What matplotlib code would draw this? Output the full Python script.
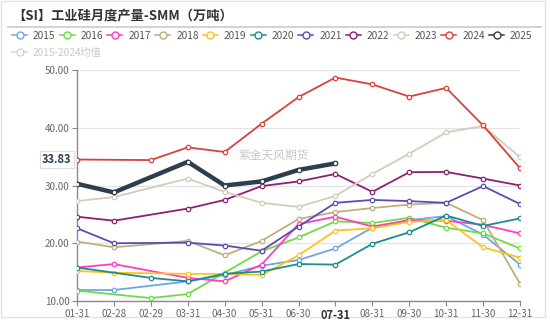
import numpy as np
import matplotlib
matplotlib.use("Agg")
import matplotlib.pyplot as plt
from matplotlib.lines import Line2D
from matplotlib.patches import Rectangle

plt.rcParams['font.family'] = ['Noto Sans CJK SC', 'DejaVu Sans']

categories = ['01-31', '02-28', '02-29', '03-31', '04-30', '05-31', '06-30',
              '07-31', '08-31', '09-30', '10-31', '11-30', '12-31']
N = np.nan
s2015 = [11.9, 11.9, N, 13.4, 14.5, 16.1, 17.1, 19.1, 22.7, 24.0, 24.7, 21.5, 16.3]
s2016 = [11.8, N, 10.5, 11.2, 14.9, 18.6, 21.0, 23.8, 23.5, 24.4, 22.7, 21.7, 19.1]
s2017 = [15.8, 16.4, N, 14.0, 13.4, 16.3, 23.3, 24.6, 22.9, 24.0, 23.9, 23.2, 21.7]
s2018 = [20.3, 19.3, N, 20.4, 17.9, 20.4, 24.2, 25.4, 26.1, 26.7, 27.0, 24.0, 13.0]
s2019 = [15.2, 14.9, N, 14.7, 14.7, 14.5, 17.9, 22.2, 22.6, 23.7, 24.0, 19.3, 17.5]
s2020 = [15.8, N, 14.0, 13.4, 14.7, 15.1, 16.4, 16.3, 19.9, 21.9, 24.8, 23.0, 24.3]
s2021 = [22.6, 20.0, N, 20.1, 19.6, 18.7, 22.9, 27.0, 27.5, 27.3, 27.0, 29.9, 26.8]
s2022 = [24.6, 23.9, N, 26.0, 27.5, 29.9, 30.7, 32.0, 28.9, 32.3, 32.35, 31.2, 30.0]
s2023 = [27.3, 28.0, N, 31.2, 28.9, 27.0, 26.3, 28.2, 32.0, 35.5, 39.2, 40.3, 34.9]
s2024 = [34.5, N, 34.4, 36.6, 35.8, 40.7, 45.3, 48.7, 47.5, 45.4, 46.9, 40.4, 33.0]
s2025 = [30.3, 28.8, N, 34.1, 30.0, 30.7, 32.7, 33.83, N, N, N, N, N]

series_names = ['2015', '2016', '2017', '2018', '2019', '2020', '2021', '2022',
                '2023', '2024', '2025']
series_vals = [s2015, s2016, s2017, s2018, s2019, s2020, s2021, s2022, s2023,
               s2024, s2025]
colors = ['#6CA6E6', '#6EDB47', '#FF3DC4', '#BFAE7E', '#FFC21A', '#1C8C8F',
          '#5C4DB0', '#8E1F71', '#D6CABB', '#D9413B', '#2D3E4E']
mean_name = '2015-2024均值'
mean_color = '#D3D3D3'
yticks = [10, 20, 30, 40, 50]
last_label = '33.83'

W, H = 550, 322
fig = plt.figure(figsize=(W / 100, H / 100), dpi=100)

ax = fig.add_axes([77 / W, 1 - 301 / H, (520 - 77) / W, (301 - 70) / H])
x = np.arange(len(categories))
for name, vals, c in zip(series_names, series_vals, colors):
    v = np.array(vals, dtype=float)
    m = ~np.isnan(v)
    lw = 3.2 if name == '2025' else 1.3
    ax.plot(x[m], v[m], color=c, lw=lw, marker='o', ms=3.2, mfc='white',
            mec=c, mew=0.9, zorder=5 if name == '2025' else 3,
            solid_joinstyle='round')

ax.set_xlim(0, len(categories) - 1)
ax.set_ylim(10, 50)
ax.set_yticks(yticks)
ax.set_yticklabels([f'{t:.2f}' for t in yticks])
ax.set_xticks(x)
ax.set_xticklabels(categories)
for lbl in ax.get_xticklabels():
    if lbl.get_text() == '07-31':
        lbl.set_fontweight('bold')
        lbl.set_color('#333333')
        lbl.set_fontsize(8)
ax.tick_params(axis='both', labelsize=7, colors='#888888', labelcolor='#666666',
               length=3.5, width=0.8, pad=2)
for lbl in ax.get_xticklabels():
    if lbl.get_text() == '07-31':
        lbl.set_color('#333333')
        lbl.set_fontsize(8)
ax.grid(axis='y', color='#E3E3E3', lw=0.9)
ax.set_axisbelow(True)
for sp in ['top', 'right']:
    ax.spines[sp].set_visible(False)
for sp in ['left', 'bottom']:
    ax.spines[sp].set_color('#8A8A8A')
    ax.spines[sp].set_linewidth(1.0)

# watermark
ax.text(0.445, 0.63, '紫金天风期货', transform=ax.transAxes, fontsize=8.5,
        color='#C8C8C8', ha='center', va='center', zorder=1)

# axis pointer label
ax.annotate(last_label, xy=(0, 34.5), xycoords='data', xytext=(-4, 0),
            textcoords='offset points', ha='right', va='center', fontsize=8,
            fontweight='bold', color='#2D3E4E', annotation_clip=False,
            bbox=dict(boxstyle='square,pad=0.2', fc='white', ec='#DDDDDD', lw=0.8))

# overlay for title, legend, frame
ov = fig.add_axes([0, 0, 1, 1], zorder=-1)
ov.set_xlim(0, W)
ov.set_ylim(H, 0)
ov.axis('off')
ov.add_patch(Rectangle((1, 1), 544, 316, fill=False, ec='#E2E2E2', lw=1))
ov.plot([8, 541], [27, 27], color='#CFCFCF', lw=1.3)
ov.text(12, 15, '【SI】工业硅月度产量-SMM（万吨）', fontsize=9.5, fontweight='bold',
        color='#333333', va='center', ha='left')

ov2 = fig.add_axes([0, 0, 1, 1], zorder=10)
ov2.set_xlim(0, W)
ov2.set_ylim(H, 0)
ov2.axis('off')
step = 47.7
for i, (name, c) in enumerate(zip(series_names, colors)):
    x0 = 12 + i * step
    ov2.plot([x0, x0 + 15], [35, 35], color=c, lw=1.1)
    ov2.plot([x0 + 7.5], [35], marker='o', ms=5, mfc='white', mec=c, mew=1)
    ov2.text(x0 + 21, 35.5, name, fontsize=7.3, color='#555555', va='center')
ov2.plot([12, 27], [52, 52], color=mean_color, lw=1.1)
ov2.plot([19.5], [52], marker='o', ms=5, mfc='white', mec=mean_color, mew=1)
ov2.text(33, 52.5, mean_name, fontsize=7.3, color='#C8C8C8', va='center')

fig.savefig('out.png', dpi=100)
